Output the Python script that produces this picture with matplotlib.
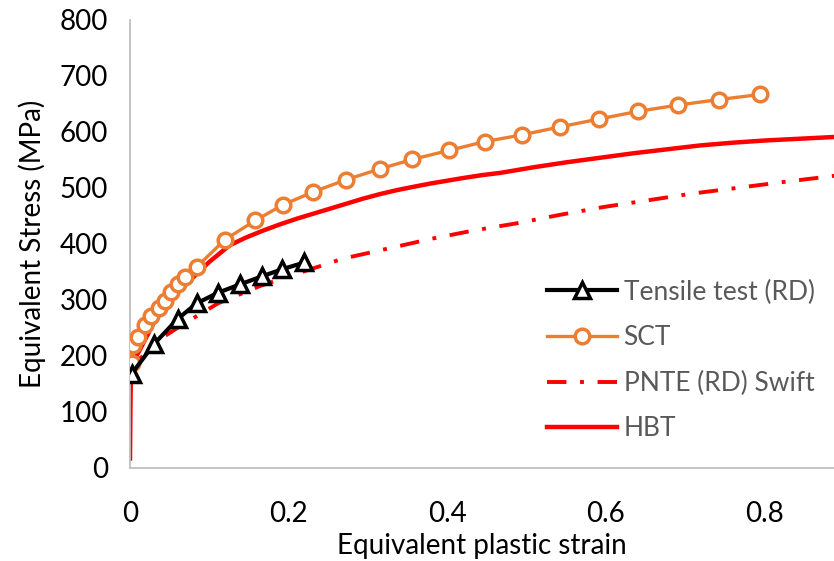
import matplotlib
matplotlib.use("Agg")
import matplotlib.pyplot as plt

plt.rcParams['font.family'] = ['Lato', 'DejaVu Sans']

# Tensile test (RD)
tt_x = [0.002, 0.030, 0.060, 0.084, 0.111, 0.139, 0.166, 0.192, 0.220]
tt_y = [168, 221, 266, 294, 313, 328, 342, 355, 367]

# SCT
sct_x = [0.002, 0.004, 0.0105, 0.019, 0.027, 0.036, 0.044, 0.052, 0.061, 0.069, 0.084,
         0.120, 0.158, 0.193, 0.231, 0.273, 0.315, 0.356, 0.402, 0.448, 0.495, 0.542,
         0.591, 0.641, 0.691, 0.743, 0.795]
sct_y = [187, 219, 234, 255, 271, 285, 299, 315, 329, 341, 359,
         408, 442, 470, 493, 515, 534, 551, 567, 583, 595, 609,
         623, 637, 648, 658, 667]

# PNTE (RD) Swift
swift_x = [0.002, 0.008, 0.021, 0.040, 0.065, 0.111, 0.164, 0.217, 0.269, 0.329, 0.379,
           0.433, 0.488, 0.542, 0.597, 0.653, 0.709, 0.765, 0.820, 0.890]
swift_y = [172, 190, 206, 232, 255, 294, 325, 350, 374, 393, 409,
           424, 437, 452, 466, 478, 490, 500, 510, 522]

# HBT
hbt_x = [0.0, 0.0005, 0.001, 0.002, 0.006, 0.012, 0.023, 0.033, 0.044, 0.058, 0.0757,
         0.100, 0.126, 0.147, 0.168, 0.189, 0.210, 0.231, 0.252, 0.273, 0.294, 0.315,
         0.336, 0.357, 0.379, 0.400, 0.421, 0.444, 0.467,
         0.509, 0.551, 0.593, 0.635, 0.677, 0.719, 0.761, 0.803, 0.845, 0.887]
hbt_y = [17, 100, 155, 180, 195, 210, 240, 268, 294, 315, 335,
         368, 398, 412, 424, 435, 445, 454, 463, 472, 481, 489,
         496, 502, 508, 513, 518, 523, 527,
         537, 546, 554, 562, 569, 576, 581, 585, 588, 591]

fig = plt.figure(figsize=(8.34, 5.61), dpi=100)
ax = fig.add_axes([130/834, 1 - 468/561, 704/834, 448/561])

ax.plot(hbt_x, hbt_y, color='#FF0000', lw=3.2, label='HBT', zorder=2,
        solid_joinstyle='round')
ax.plot(swift_x, swift_y, color='#FF0000', lw=2.8, dashes=(5, 3.5, 1, 3.5),
        label='PNTE (RD) Swift', zorder=3)
ax.plot(sct_x, sct_y, color='#ED7D31', lw=2.4, marker='o', ms=10.5,
        mfc='white', mec='#ED7D31', mew=2.5, label='SCT', zorder=4)
ax.plot(tt_x, tt_y, color='black', lw=3.0, marker='^', ms=11.5,
        mfc='white', mec='black', mew=2.5, label='Tensile test (RD)', zorder=5)

ax.set_xlim(0, 0.888)
ax.set_ylim(0, 800)
ax.set_xticks([0, 0.2, 0.4, 0.6, 0.8])
ax.set_xticklabels(['0', '0.2', '0.4', '0.6', '0.8'])
ax.set_yticks(range(0, 801, 100))
ax.tick_params(length=0, labelsize=20, colors='black')
ax.tick_params(axis='y', pad=16)
ax.tick_params(axis='x', pad=24)

for s in ['top', 'right']:
    ax.spines[s].set_visible(False)
for s in ['left', 'bottom']:
    ax.spines[s].set_color('#BFBFBF')
    ax.spines[s].set_linewidth(1.3)

ax.set_xlabel('Equivalent plastic strain', fontsize=20, labelpad=4)
ax.set_ylabel('Equivalent Stress (MPa)', fontsize=20, labelpad=10)

h, l = ax.get_legend_handles_labels()
order = [3, 2, 1, 0]
leg = ax.legend([h[i] for i in order], [l[i] for i in order], loc='center left',
                bbox_to_anchor=(0.558, 0.24), frameon=False, fontsize=19,
                handlelength=2.65, labelspacing=0.78, handletextpad=0.27)
for t in leg.get_texts():
    t.set_color('#595959')

fig.savefig('out.png', dpi=100)
